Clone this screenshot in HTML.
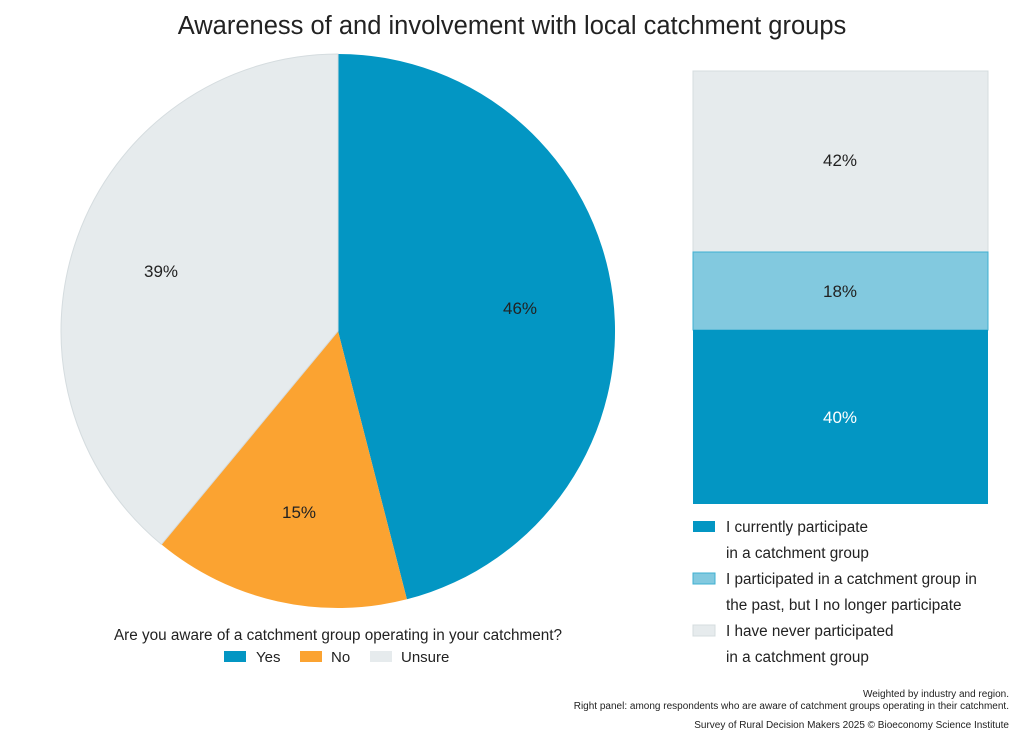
<!DOCTYPE html>
<html><head><meta charset="utf-8"><style>
body{margin:0;background:#fff;}
svg text{font-family:"Liberation Sans",Arial,sans-serif;fill:#222;}
</style></head><body>
<svg width="1024" height="744" viewBox="0 0 1024 744">
<text x="512" y="34" font-size="25.5" text-anchor="middle">Awareness of and involvement with local catchment groups</text>
<path d="M338,331 L338,54 A277,277 0 0 1 406.9,599.3 Z" fill="#0396c3"/>
<path d="M338,331 L406.9,599.3 A277,277 0 0 1 161.4,544.4 Z" fill="#fba331"/>
<path d="M338,331 L161.4,544.4 A277,277 0 0 1 338,54 Z" fill="#e6ebed" stroke="#d5dcdf" stroke-width="1"/>
<text x="520" y="314" font-size="17" text-anchor="middle">46%</text>
<text x="299" y="518" font-size="17" text-anchor="middle">15%</text>
<text x="161" y="277" font-size="17" text-anchor="middle">39%</text>
<text x="338" y="640" font-size="15.3" text-anchor="middle">Are you aware of a catchment group operating in your catchment?</text>
<rect x="224" y="651" width="22" height="11" fill="#0396c3"/><text x="256" y="662" font-size="15">Yes</text>
<rect x="300" y="651" width="22" height="11" fill="#fba331"/><text x="331" y="662" font-size="15">No</text>
<rect x="370" y="651" width="22" height="11" fill="#e6ebed"/><text x="401" y="662" font-size="15">Unsure</text>
<rect x="693" y="71" width="295" height="181" fill="#e6ebed" stroke="#d5dcdf"/>
<rect x="693" y="252" width="295" height="78" fill="#82c9df" stroke="#3fb0d2"/>
<rect x="693" y="330" width="295" height="174" fill="#0396c3"/>
<text x="840" y="166" font-size="17" text-anchor="middle">42%</text>
<text x="840" y="297" font-size="17" text-anchor="middle">18%</text>
<text x="840" y="423" font-size="17" text-anchor="middle" style="fill:#fff">40%</text>
<rect x="693" y="521" width="22" height="11" fill="#0396c3"/>
<text x="726" y="532" font-size="15.3">I currently participate</text>
<text x="726" y="558" font-size="15.3">in a catchment group</text>
<rect x="693" y="573" width="22" height="11" fill="#82c9df" stroke="#3fb0d2"/>
<text x="726" y="584" font-size="15.3">I participated in a catchment group in</text>
<text x="726" y="610" font-size="15.3">the past, but I no longer participate</text>
<rect x="693" y="625" width="22" height="11" fill="#e6ebed" stroke="#d5dcdf"/>
<text x="726" y="636" font-size="15.3">I have never participated</text>
<text x="726" y="662" font-size="15.3">in a catchment group</text>
<text x="1009" y="697" font-size="10" text-anchor="end">Weighted by industry and region.</text>
<text x="1009" y="709" font-size="10" text-anchor="end">Right panel: among respondents who are aware of catchment groups operating in their catchment.</text>
<text x="1009" y="728" font-size="10" text-anchor="end">Survey of Rural Decision Makers 2025 © Bioeconomy Science Institute</text>
</svg>
</body></html>
